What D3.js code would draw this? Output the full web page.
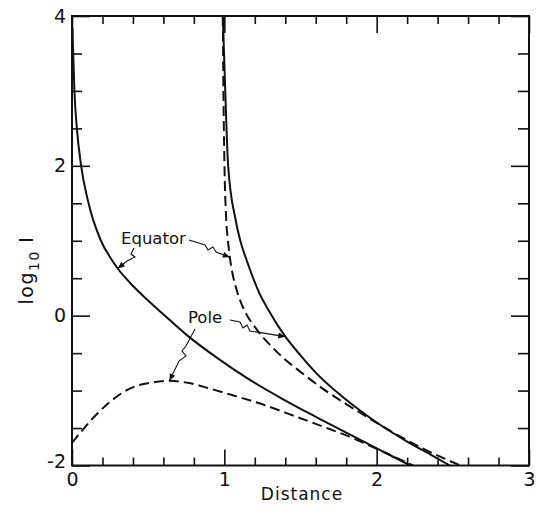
<!DOCTYPE html>
<html>
<head>
<meta charset="utf-8">
<script src="https://cdn.jsdelivr.net/npm/d3@7"></script>
<style>
  html, body { margin: 0; padding: 0; background: #fff; }
  svg { display: block; }
  text { font-family: "DejaVu Sans", sans-serif; fill: #111; }
</style>
</head>
<body>
<svg id="chart" width="537" height="509"></svg>
<script>
// ---- data ----
const xMajorTicks = [0, 1, 2, 3];
const yMajorTicks = [-2, 0, 2, 4];
const xLabel = "Distance";

// Equator, inner curve (solid)
const eqInnerX = [0.003, 0.008, 0.016, 0.032, 0.06, 0.104, 0.19, 0.25, 0.30, 0.38, 0.48, 0.61, 0.76, 0.95, 1.17, 1.38, 1.6, 1.8, 2.01, 2.22];
const eqInnerY = [3.84, 3.5, 3.0, 2.5, 2.0, 1.54, 1.0, 0.78, 0.63, 0.44, 0.24, 0.0, -0.27, -0.56, -0.86, -1.11, -1.35, -1.56, -1.78, -2.0];

// Pole, inner curve (dashed)
const poleInnerX = [0.0, 0.08, 0.16, 0.25, 0.33, 0.42, 0.53, 0.64, 0.77, 0.90, 1.05, 1.23, 1.5, 1.7, 1.82, 1.95, 2.1, 2.24];
const poleInnerY = [-1.70, -1.5, -1.32, -1.15, -1.03, -0.94, -0.89, -0.87, -0.90, -0.97, -1.06, -1.17, -1.37, -1.52, -1.615, -1.73, -1.87, -2.0];

// Equator, outer curve (dashed)
const eqOuterX = [0.99, 0.994, 1.0, 1.012, 1.024, 1.036, 1.055, 1.08, 1.11, 1.15, 1.2, 1.25, 1.30, 1.385, 1.5, 1.65, 1.8, 1.96, 2.1, 2.3, 2.55];
const eqOuterY = [4.0, 3.0, 2.1, 1.3, 1.0, 0.78, 0.55, 0.35, 0.17, 0.0, -0.15, -0.28, -0.39, -0.56, -0.75, -0.98, -1.18, -1.38, -1.55, -1.77, -2.0];

// Pole, outer curve (solid)
const poleOuterX = [0.99, 1.006, 1.025, 1.074, 1.105, 1.15, 1.23, 1.30, 1.39, 1.5, 1.6, 1.75, 1.9, 2.01, 2.2, 2.36, 2.48];
const poleOuterY = [4.0, 3.0, 2.0, 1.28, 1.0, 0.72, 0.3, 0.04, -0.25, -0.53, -0.76, -1.04, -1.28, -1.44, -1.68, -1.86, -2.0];

// ---- chart ----
const svg = d3.select("#chart");
const x = d3.scaleLinear().domain([0, 3]).range([72, 529]);
const y = d3.scaleLinear().domain([-2, 4]).range([465.5, 16]);

const toPts = (xs, ys) => xs.map((v, i) => [v, ys[i]]);
const line = d3.line().x(d => x(d[0])).y(d => y(d[1])).curve(d3.curveMonotoneX);

const plot = svg.append("g");
plot.append("defs").append("clipPath").attr("id", "clip")
  .append("rect").attr("x", x(0)).attr("y", y(4)).attr("width", x(3) - x(0)).attr("height", y(-2) - y(4));

const curves = plot.append("g").attr("clip-path", "url(#clip)");
const series = [
  { pts: toPts(eqInnerX, eqInnerY), dash: null },
  { pts: toPts(poleInnerX, poleInnerY), dash: "10,5" },
  { pts: toPts(eqOuterX, eqOuterY), dash: "10,5" },
  { pts: toPts(poleOuterX, poleOuterY), dash: null }
];
series.forEach(s => {
  curves.append("path").attr("d", line(s.pts))
    .attr("fill", "none").attr("stroke", "#111").attr("stroke-width", 2)
    .attr("stroke-dasharray", s.dash);
});

// axes with inward ticks
const xMinor = d3.range(0, 3.0001, 0.2).filter(v => Math.abs(v - Math.round(v)) > 1e-6);
const yMinor = d3.range(-2, 4.0001, 0.5).filter(v => Math.abs(v / 2 - Math.round(v / 2)) > 1e-6);

function axisGroup(axis, tx, ty) {
  const g = svg.append("g").attr("transform", `translate(${tx},${ty})`).call(axis);
  g.select(".domain").remove();
  g.selectAll("line").attr("stroke", "#111").attr("stroke-width", 1.6);
  return g;
}
// bottom
axisGroup(d3.axisBottom(x).tickValues(xMinor).tickSize(-8).tickFormat(""), 0, y(-2));
const bx = axisGroup(d3.axisBottom(x).tickValues(xMajorTicks).tickSize(-16).tickPadding(7).tickFormat(d3.format("d")), 0, y(-2));
bx.selectAll("text").attr("font-size", 19).attr("font-family", "DejaVu Sans").attr("fill", "#111");
// top
axisGroup(d3.axisTop(x).tickValues(xMinor).tickSize(-8).tickFormat(""), 0, y(4));
axisGroup(d3.axisTop(x).tickValues(xMajorTicks).tickSize(-17).tickFormat(""), 0, y(4));
// left
axisGroup(d3.axisLeft(y).tickValues(yMinor).tickSize(-10).tickFormat(""), x(0), 0);
const ly = axisGroup(d3.axisLeft(y).tickValues(yMajorTicks).tickSize(-18).tickPadding(6).tickFormat(d => d < 0 ? "-" + Math.abs(d) : d), x(0), 0);
ly.selectAll("text").attr("font-size", 19).attr("font-family", "DejaVu Sans").attr("fill", "#111");
ly.selectAll(".tick").filter(d => d === -2).select("text").attr("dy", "0.1em");
// right
axisGroup(d3.axisRight(y).tickValues(yMinor).tickSize(-11).tickFormat(""), x(3), 0);
axisGroup(d3.axisRight(y).tickValues(yMajorTicks).tickSize(-18).tickFormat(""), x(3), 0);

// frame
svg.append("rect").attr("x", x(0)).attr("y", y(4)).attr("width", x(3) - x(0)).attr("height", y(-2) - y(4))
  .attr("fill", "none").attr("stroke", "#111").attr("stroke-width", 2);

// axis titles
svg.append("text").attr("x", 302).attr("y", 500).attr("text-anchor", "middle")
  .attr("font-size", 17).attr("letter-spacing", 1).text(xLabel);
const yt = svg.append("text").attr("transform", "translate(33,270) rotate(-90)").attr("text-anchor", "middle")
  .attr("font-size", 19).attr("letter-spacing", 1.5);
yt.append("tspan").text("log");
yt.append("tspan").attr("font-size", 14).attr("dy", 6).text("10");
yt.append("tspan").attr("dy", -6).text(" I");

// annotations with squiggle leaders
function leader(pts, tip, from) {
  const p = pts.map(d => d.join(",")).join(" L");
  svg.append("path").attr("d", "M" + p).attr("fill", "none").attr("stroke", "#111").attr("stroke-width", 1.1);
  const ang = Math.atan2(tip[1] - from[1], tip[0] - from[0]);
  const L = 7, W = 3;
  const bx0 = tip[0] - L * Math.cos(ang), by0 = tip[1] - L * Math.sin(ang);
  const nx = -Math.sin(ang) * W, ny = Math.cos(ang) * W;
  svg.append("path").attr("d", `M${tip[0]},${tip[1]} L${bx0 + nx},${by0 + ny} L${bx0 - nx},${by0 - ny} Z`).attr("fill", "#111");
}
svg.append("text").attr("x", 121).attr("y", 244).attr("font-size", 16.5).text("Equator");
svg.append("text").attr("x", 188).attr("y", 323).attr("font-size", 16.5).text("Pole");

// anchor points (arrow tips) on the curves, in data units
const tipEqInner = [x(0.30), y(0.63)];
const tipEqOuter = [x(1.036), y(0.78)];
const tipPoleInner = [x(0.64), y(-0.87)];
const tipPoleOuter = [x(1.40), y(-0.28)];

leader([[134, 248], [131, 254], [135, 257], [127, 261], tipEqInner], tipEqInner, [127, 261]);
leader([[189, 240], [205, 245], [208, 250], [213, 247], [216, 252], tipEqOuter], tipEqOuter, [216, 252]);
leader([[195, 329], [186, 346], [182, 351], [186, 356], [179, 361], tipPoleInner], tipPoleInner, [179, 361]);
leader([[230, 320], [240, 322], [243, 328], [247, 325], [250, 331], tipPoleOuter], tipPoleOuter, [250, 331]);
</script>
</body>
</html>
